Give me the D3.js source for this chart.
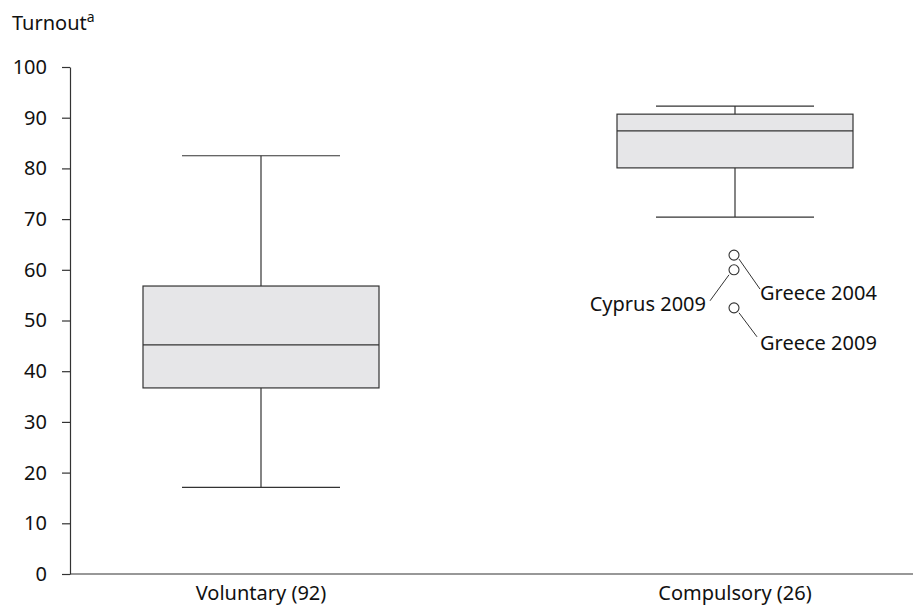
<!DOCTYPE html>
<html>
<head>
<meta charset="utf-8">
<script src="https://cdn.jsdelivr.net/npm/d3@7"></script>
<style>
  body { margin: 0; background: #fff; }
  text { font-family: "Noto Sans", sans-serif; fill: #111; }
</style>
</head>
<body>
<div id="chart"></div>
<script>
const width = 913;
const height = 608;

// box plot summaries
const categories = ["Voluntary (92)", "Compulsory (26)"];
const whiskerLow = [17.1, 70.4];
const quart1 = [36.7, 80.1];
const medians = [45.2, 87.4];
const quart3 = [56.8, 90.7];
const whiskerHigh = [82.5, 92.3];

// outliers (compulsory group)
const outlierNames = ["Greece 2004", "Cyprus 2009", "Greece 2009"];
const outlierValues = [62.9, 60.0, 52.5];
const yTicks = [0, 10, 20, 30, 40, 50, 60, 70, 80, 90, 100];

const margin = { left: 70 };
const fontSize = "20px";

const svg = d3.select("#chart")
    .append("svg")
    .attr("width", width)
    .attr("height", height);

const y = d3.scaleLinear()
    .domain([0, 100])
    .range([574, 67]);

const x = d3.scaleBand()
    .domain(categories)
    .range([24, 972]);

const boxW = 236;
const capW = 158;
const ink = "#333";

// y axis
const yAxis = svg.append("g")
    .attr("transform", `translate(${margin.left},0)`)
    .call(d3.axisLeft(y).tickValues(yTicks).tickSize(8).tickPadding(15).tickSizeOuter(0));
yAxis.select(".domain").attr("stroke", ink).attr("stroke-width", 1.2);
yAxis.selectAll(".tick line").attr("stroke", ink).attr("stroke-width", 1.2);
yAxis.selectAll(".tick text")
    .style("font-family", "'Noto Sans', sans-serif")
    .style("font-size", fontSize)
    .attr("fill", "#111");

// x axis baseline
svg.append("line")
    .attr("x1", margin.left)
    .attr("x2", width)
    .attr("y1", y(0))
    .attr("y2", y(0))
    .attr("stroke", ink)
    .attr("stroke-width", 1.2);

svg.selectAll(".xlab")
    .data(categories)
    .enter()
    .append("text")
    .attr("class", "xlab")
    .attr("x", d => x(d) + x.bandwidth() / 2)
    .attr("y", 600)
    .attr("text-anchor", "middle")
    .style("font-size", fontSize)
    .text(d => d);

// axis title
const title = svg.append("text")
    .attr("x", 12)
    .attr("y", 30)
    .style("font-size", fontSize)
    .text("Turnout");
title.append("tspan")
    .attr("dy", -8)
    .style("font-size", "14px")
    .text("a");

// boxes
const groups = svg.selectAll(".box")
    .data(categories)
    .enter()
    .append("g")
    .attr("class", "box");

const cx = (d) => x(d) + x.bandwidth() / 2;

groups.append("line")
    .attr("x1", cx).attr("x2", cx)
    .attr("y1", (d, i) => y(whiskerLow[i]))
    .attr("y2", (d, i) => y(whiskerHigh[i]))
    .attr("stroke", ink).attr("stroke-width", 1.2);

groups.append("rect")
    .attr("x", d => cx(d) - boxW / 2)
    .attr("width", boxW)
    .attr("y", (d, i) => y(quart3[i]))
    .attr("height", (d, i) => y(quart1[i]) - y(quart3[i]))
    .attr("fill", "#e6e6e8")
    .attr("stroke", ink)
    .attr("stroke-width", 1.2);

groups.append("line")
    .attr("x1", d => cx(d) - boxW / 2).attr("x2", d => cx(d) + boxW / 2)
    .attr("y1", (d, i) => y(medians[i]))
    .attr("y2", (d, i) => y(medians[i]))
    .attr("stroke", ink).attr("stroke-width", 1.2);

[whiskerLow, whiskerHigh].forEach(arr => {
    groups.append("line")
        .attr("x1", d => cx(d) - capW / 2).attr("x2", d => cx(d) + capW / 2)
        .attr("y1", (d, i) => y(arr[i]))
        .attr("y2", (d, i) => y(arr[i]))
        .attr("stroke", ink).attr("stroke-width", 1.2);
});

// outliers with leader lines
const ox = cx(categories[1]) - 1;
const labelPos = [
    { lx1: 5, ly1: 4, lx2: 26, ly2: 34, anchor: "start", tx: 26, ty: 45 },
    { lx1: -5, ly1: 5, lx2: -24, ly2: 31, anchor: "end", tx: -28, ty: 41 },
    { lx1: 5, ly1: 5, lx2: 23, ly2: 29, anchor: "start", tx: 26, ty: 42 }
];

const outs = svg.selectAll(".outlier")
    .data(outlierNames)
    .enter()
    .append("g")
    .attr("class", "outlier")
    .attr("transform", (d, i) => `translate(${ox},${y(outlierValues[i])})`);

outs.append("circle")
    .attr("r", 5)
    .attr("fill", "#fff")
    .attr("stroke", ink)
    .attr("stroke-width", 1.1);

outs.append("line")
    .attr("x1", (d, i) => labelPos[i].lx1)
    .attr("y1", (d, i) => labelPos[i].ly1)
    .attr("x2", (d, i) => labelPos[i].lx2)
    .attr("y2", (d, i) => labelPos[i].ly2)
    .attr("stroke", ink)
    .attr("stroke-width", 1);

outs.append("text")
    .attr("x", (d, i) => labelPos[i].tx)
    .attr("y", (d, i) => labelPos[i].ty)
    .attr("text-anchor", (d, i) => labelPos[i].anchor)
    .style("font-size", fontSize)
    .text(d => d);
</script>
</body>
</html>
